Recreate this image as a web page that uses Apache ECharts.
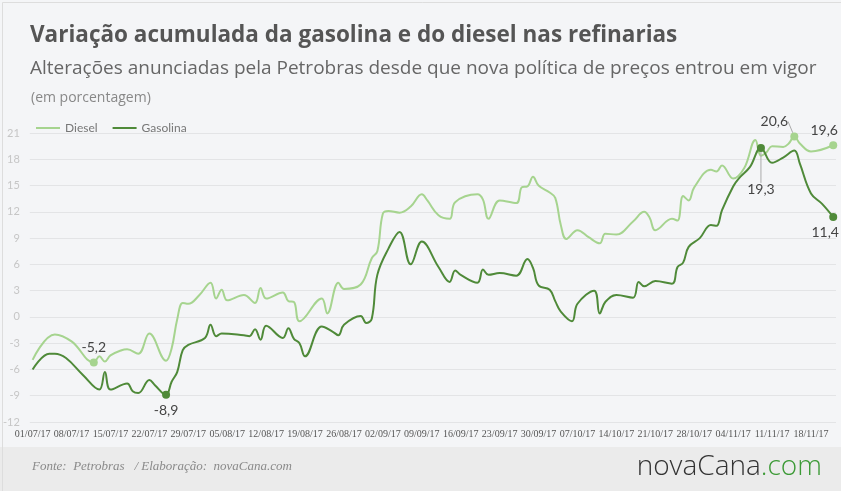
<!DOCTYPE html>
<html>
<head>
<meta charset="utf-8">
<script src="https://cdn.jsdelivr.net/npm/echarts@6/dist/echarts.min.js"></script>
<style>
  html, body { margin: 0; padding: 0; background: #f4f5f7; }
  #chart { width: 841px; height: 491px; }
</style>
</head>
<body>
<div id="chart"></div>
<script>
// datas das semanas no eixo x
const xTickLabels = ['01/07/17', '08/07/17', '15/07/17', '22/07/17', '29/07/17', '05/08/17', '12/08/17',
  '19/08/17', '26/08/17', '02/09/17', '09/09/17', '16/09/17', '23/09/17', '30/09/17', '07/10/17',
  '14/10/17', '21/10/17', '28/10/17', '04/11/17', '11/11/17', '18/11/17']
const yTicks = [-12, 21, 3] // min, max, intervalo

const dieselDates = ['01/07', '05/07', '08/07', '12/07', '13/07', '14/07', '15/07', '17/07', '18/07', '20/07',
  '22/07', '25/07', '26/07', '27/07', '28/07', '29/07', '31/07', '02/08', '03/08', '04/08', '05/08', '08/08',
  '10/08', '11/08', '12/08', '15/08', '16/08', '17/08', '18/08', '22/08', '23/08', '25/08', '26/08', '29/08',
  '31/08', '01/09', '02/09', '03/09', '05/09', '07/09', '09/09', '10/09', '12/09', '14/09', '15/09', '19/09',
  '20/09', '21/09', '23/09', '26/09', '27/09', '28/09', '29/09', '30/09', '02/10', '03/10', '04/10', '05/10',
  '07/10', '09/10', '11/10', '12/10', '14/10', '17/10', '19/10', '20/10', '21/10', '24/10', '25/10', '26/10',
  '27/10', '28/10', '31/10', '01/11', '02/11', '04/11', '06/11', '08/11', '09/11', '10/11', '11/11', '13/11',
  '14/11', '15/11', '16/11', '18/11', '22/11']
const dieselValues = [-4.9, -2.0, -2.8, -5.2, -4.5, -5.1, -4.4, -3.8, -3.7, -4.2,
  -1.9, -5.0, -3.6, -0.3, 1.6, 1.5, 2.5, 3.9, 2.1, 3.1, 1.9, 2.5,
  1.6, 3.3, 2.1, 2.8, 1.8, 1.7, -0.5, 2.1, 0.4, 3.9, 3.2, 3.7,
  6.7, 7.5, 11.8, 12.1, 11.9, 12.6, 14.0, 13.3, 11.6, 11.2, 13.1, 14.0,
  13.4, 11.2, 13.3, 13.0, 14.8, 14.9, 16.0, 15.0, 14.2, 13.6, 10.5, 8.9,
  9.9, 9.1, 8.4, 9.5, 9.4, 10.9, 12.0, 11.3, 9.9, 11.2, 11.0, 13.8,
  13.3, 14.8, 16.8, 16.6, 17.3, 15.8, 17.0, 20.2, 18.4, 18.8, 19.5, 19.4,
  19.8, 20.6, 19.8, 18.9, 19.6]

const gasolinaDates = ['01/07', '04/07', '05/07', '07/07', '10/07', '13/07', '14/07', '15/07', '18/07', '19/07',
  '20/07', '22/07', '23/07', '25/07', '26/07', '27/07', '28/07', '29/07', '01/08', '02/08', '03/08', '04/08',
  '08/08', '09/08', '10/08', '11/08', '12/08', '15/08', '16/08', '17/08', '18/08', '19/08', '22/08', '24/08',
  '25/08', '26/08', '29/08', '30/08', '31/08', '01/09', '03/09', '05/09', '07/09', '09/09', '12/09', '14/09',
  '15/09', '16/09', '19/09', '20/09', '21/09', '23/09', '26/09', '28/09', '29/09', '30/09', '02/10', '03/10',
  '04/10', '06/10', '07/10', '10/10', '11/10', '12/10', '14/10', '17/10', '18/10', '19/10', '21/10', '24/10',
  '25/10', '26/10', '27/10', '29/10', '31/10', '01/11', '02/11', '04/11', '05/11', '07/11', '09/11', '11/11',
  '13/11', '15/11', '16/11', '18/11', '20/11', '22/11']
const gasolinaValues = [-6.0, -4.2, -4.2, -4.7, -6.6, -8.3, -6.3, -8.3, -7.6, -8.5,
  -8.7, -7.2, -7.8, -8.9, -7.4, -6.3, -3.8, -3.2, -2.4, -0.9, -2.2, -1.9,
  -2.1, -2.2, -1.4, -2.6, -1.0, -2.4, -1.3, -2.5, -3.0, -4.5, -1.1, -1.7,
  -2.1, -0.9, 0.1, -0.7, -0.2, 4.8, 7.8, 9.7, 6.0, 8.6, 5.7, 4.0,
  5.3, 4.8, 3.9, 5.4, 4.8, 5.0, 4.7, 6.6, 5.6, 3.6, 3.1, 1.8,
  0.6, -0.5, 1.5, 3.0, 0.4, 1.7, 2.5, 2.2, 4.0, 3.5, 4.1, 3.8,
  5.7, 6.2, 8.0, 9.0, 10.5, 10.4, 12.2, 14.9, 15.8, 17.1, 19.3, 17.6,
  18.2, 19.0, 17.5, 14.1, 12.9, 11.4]

// pontos destacados no grafico
const dieselMarks = ['12/07', '15/11', '22/11']
const gasolinaMarks = ['25/07', '09/11', '22/11']

const DIESEL_COLOR = '#a6d48f'
const GASOLINA_COLOR = '#4f8a39'

function dayIndex(ddmm) {
  const [d, m] = ddmm.split('/').map(Number)
  return (Date.UTC(2017, m - 1, d) - Date.UTC(2017, 6, 1)) / 86400000
}

function fmt(v) {
  return v.toFixed(1).replace('.', ',')
}

// marks: [posicao do label, dx, dy, linha guia]
function buildData(dates, values, marks, color, labelOpts) {
  return dates.map((d, i) => {
    const point = [dayIndex(d), values[i]]
    const k = marks.indexOf(d)
    if (k < 0) return point
    const o = labelOpts[k]
    return {
      value: point,
      symbol: 'circle',
      symbolSize: 8,
      itemStyle: { color: color },
      label: { show: true, formatter: fmt(values[i]), position: o[0], distance: 4 },
      labelLine: { show: o[3], lineStyle: { color: '#aaa', width: 1 } },
      layoutShift: [o[1], o[2]]
    }
  })
}

const dieselData = buildData(dieselDates, dieselValues, dieselMarks, DIESEL_COLOR, [
  ['top', 0, 0, false],
  ['top', -20, 0, true],
  ['top', -9, 0, false]
])
const gasolinaData = buildData(gasolinaDates, gasolinaValues, gasolinaMarks, GASOLINA_COLOR, [
  ['bottom', 0, 1, false],
  ['bottom', 0, 27, true],
  ['bottom', -8, 0, false]
])

function shiftFor(data) {
  return p => {
    const item = data[p.dataIndex]
    if (!item || !item.layoutShift) return null
    return { dx: item.layoutShift[0], dy: item.layoutShift[1] }
  }
}

const chart = echarts.init(document.getElementById('chart'))

const option = {
  backgroundColor: '#f4f5f7',
  animation: false,
  title: [
    {
      text: 'Variação acumulada da gasolina e do diesel nas refinarias',
      left: 25,
      top: 19,
      textStyle: { fontFamily: 'Open Sans', fontSize: 22.5, fontWeight: 'bold', color: '#555' }
    },
    {
      text: 'Alterações anunciadas pela Petrobras desde que nova política de preços entrou em vigor',
      left: 25,
      top: 54,
      textStyle: { fontFamily: 'Open Sans', fontSize: 19, fontWeight: 'normal', color: '#666' }
    },
    {
      text: '(em porcentagem)',
      left: 26,
      top: 86,
      textStyle: { fontFamily: 'Open Sans', fontSize: 14, fontWeight: 'normal', color: '#888' }
    }
  ],
  legend: {
    left: 31,
    top: 117,
    icon: 'rect',
    itemWidth: 24,
    itemHeight: 2,
    itemGap: 15,
    textStyle: { fontFamily: 'Lato', fontSize: 12, color: '#777' },
    data: ['Diesel', 'Gasolina']
  },
  grid: {
    left: 27,
    right: 5,
    top: 133,
    bottom: 69
  },
  xAxis: {
    type: 'value',
    min: -0.5,
    max: 144.5,
    axisLine: { show: false },
    axisTick: { show: false },
    splitLine: { show: false },
    axisLabel: {
      customValues: xTickLabels.map((t, i) => i * 7),
      formatter: v => xTickLabels[Math.round(v / 7)] || '',
      fontFamily: 'Liberation Sans Narrow',
      fontSize: 10,
      color: '#555',
      margin: 7
    }
  },
  yAxis: {
    type: 'value',
    min: yTicks[0],
    max: yTicks[1],
    interval: yTicks[2],
    axisLine: { show: false },
    axisTick: { show: false },
    splitLine: { lineStyle: { color: '#e3e4e6' } },
    axisLabel: { fontFamily: 'Lato', fontSize: 11, color: '#c6c6c6', margin: 10 }
  },
  series: [
    {
      name: 'Diesel',
      type: 'line',
      smooth: 0.4,
      symbol: 'none',
      showAllSymbol: true,
      color: DIESEL_COLOR,
      lineStyle: { width: 2 },
      label: { fontFamily: 'Lato', fontSize: 14, color: '#444' },
      labelLayout: shiftFor(dieselData),
      data: dieselData
    },
    {
      name: 'Gasolina',
      type: 'line',
      smooth: 0.4,
      symbol: 'none',
      showAllSymbol: true,
      color: GASOLINA_COLOR,
      lineStyle: { width: 2 },
      label: { fontFamily: 'Lato', fontSize: 14, color: '#444' },
      labelLayout: shiftFor(gasolinaData),
      data: gasolinaData
    }
  ],
  graphic: [
    {
      type: 'rect',
      left: 0,
      top: 447,
      shape: { width: 841, height: 44 },
      style: { fill: '#ebebeb' },
      silent: true
    },
    {
      type: 'rect',
      left: 0,
      top: 0,
      shape: { width: 840, height: 490 },
      style: { fill: 'none', stroke: '#dddddd', lineWidth: 1 },
      silent: true
    },
    {
      type: 'text',
      left: 32,
      top: 460,
      style: {
        text: 'Fonte:  Petrobras   / Elaboração:  novaCana.com',
        font: 'italic 13px "Liberation Sans Narrow"',
        fill: '#8a8a8a'
      }
    },
    {
      type: 'text',
      right: 19,
      top: 453,
      style: {
        text: '{a|novaCana}{b|.com}',
        rich: {
          a: { fontFamily: 'Open Sans', fontSize: 28, fontWeight: 300, fill: '#333' },
          b: { fontFamily: 'Open Sans', fontSize: 28, fontWeight: 300, fill: '#3c9a36' }
        }
      }
    }
  ]
}

chart.setOption(option)
</script>
</body>
</html>
